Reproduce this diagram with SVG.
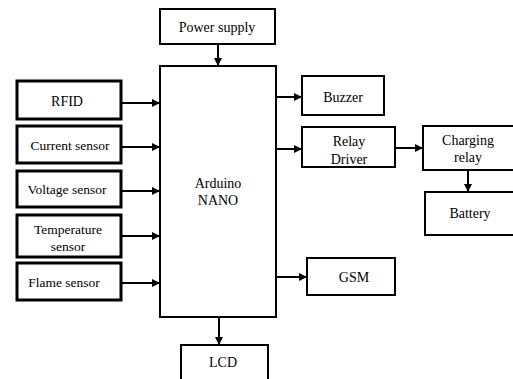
<svg xmlns="http://www.w3.org/2000/svg" width="513" height="379" viewBox="0 0 513 379">
<defs>
<marker id="ah" viewBox="0 0 10 10" refX="10" refY="5" markerWidth="4" markerHeight="4" orient="auto" markerUnits="strokeWidth">
<path d="M0,0 L10,5 L0,10 z" fill="#000"/>
</marker>
<style>
.box{fill:#fff;stroke:#000;stroke-width:2}
.thick{stroke-width:3}
text{font-family:"Liberation Serif","Times New Roman",serif;font-size:14px;fill:#000;text-anchor:middle}
.s13{font-size:13.5px}
.conn line{stroke:#000;stroke-width:2;marker-end:url(#ah)}
</style>
</defs>
<rect x="0" y="0" width="513" height="379" fill="#ffffff"/>
<g id="connectors" class="conn">
<line x1="218" y1="44" x2="218" y2="66"/>
<line x1="121" y1="103" x2="160" y2="103"/>
<line x1="121" y1="147" x2="160" y2="147"/>
<line x1="121" y1="191" x2="160" y2="191"/>
<line x1="121" y1="236" x2="160" y2="236"/>
<line x1="121" y1="283" x2="160" y2="283"/>
<line x1="219" y1="317" x2="219" y2="345"/>
<line x1="276" y1="97" x2="302" y2="97"/>
<line x1="276" y1="149" x2="302" y2="149"/>
<line x1="395" y1="148" x2="423" y2="148"/>
<line x1="468" y1="170" x2="468" y2="192"/>
<line x1="276" y1="277" x2="307" y2="277"/>
</g>
<g id="power"><rect class="box" x="160" y="9" width="115" height="35"/><text x="217" y="32">Power supply</text></g>
<g id="arduino"><rect class="box" x="160" y="66" width="116" height="251"/><text x="218" y="188">Arduino</text><text x="218" y="205">NANO</text></g>
<g id="rfid"><rect class="box thick" x="17" y="81" width="104" height="38"/><text x="67" y="106">RFID</text></g>
<g id="current"><rect class="box thick" x="17" y="126" width="104" height="37"/><text class="s13" x="70" y="150">Current sensor</text></g>
<g id="voltage"><rect class="box thick" x="17" y="171" width="104" height="36"/><text class="s13" x="67" y="194">Voltage sensor</text></g>
<g id="temperature"><rect class="box thick" x="17" y="215" width="104" height="42"/><text class="s13" x="68" y="234">Temperature</text><text class="s13" x="68" y="251">sensor</text></g>
<g id="flame"><rect class="box thick" x="17" y="263" width="104" height="37"/><text class="s13" x="64" y="287">Flame sensor</text></g>
<g id="lcd"><rect class="box" x="181" y="345" width="87" height="40"/><text x="223" y="367">LCD</text></g>
<g id="buzzer"><rect class="box" x="302" y="76" width="82" height="39"/><text x="343" y="102">Buzzer</text></g>
<g id="relaydriver"><rect class="box" x="302" y="127" width="93" height="40"/><text x="349" y="146">Relay</text><text x="349" y="164">Driver</text></g>
<g id="chargingrelay"><rect class="box" x="423" y="126" width="95" height="44"/><text x="468" y="145">Charging</text><text x="468" y="162">relay</text></g>
<g id="battery"><rect class="box" x="425" y="192" width="93" height="43"/><text x="470" y="218">Battery</text></g>
<g id="gsm"><rect class="box" x="307" y="258" width="88" height="37"/><text x="354" y="282">GSM</text></g>
</svg>
